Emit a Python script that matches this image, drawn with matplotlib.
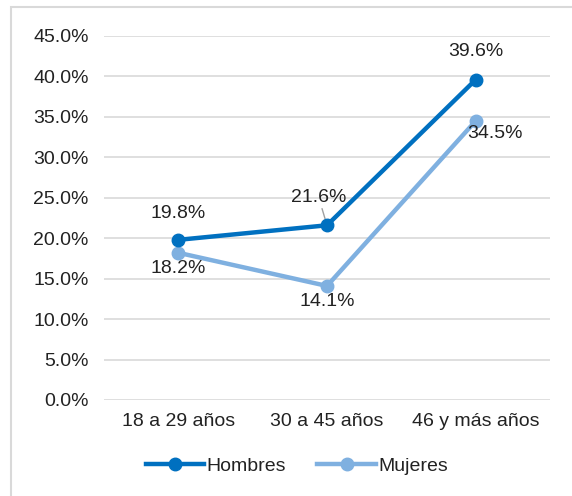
import matplotlib.pyplot as plt
from matplotlib.patches import Rectangle

categories = ["18 a 29 años", "30 a 45 años", "46 y más años"]
hombres = [19.8, 21.6, 39.6]
mujeres = [18.2, 14.1, 34.5]
yticks = [0, 5, 10, 15, 20, 25, 30, 35, 40, 45]

plt.rcParams['font.family'] = ['Liberation Sans', 'DejaVu Sans']
FS = 14
TXT = '#222222'

fig = plt.figure(figsize=(5.72, 4.96), dpi=100)
# outer chart border (runs off right and bottom)
fig.patches.append(Rectangle((11 / 572, -0.1), 1.2, 1 - 7 / 496 + 0.1,
                             transform=fig.transFigure, fill=False,
                             edgecolor='#D9D9D9', linewidth=1.5))

ax = fig.add_axes([104 / 572, 1 - 400 / 496, 446 / 572, 364 / 496])
x = list(range(len(categories)))
c_h = '#0070C0'
c_m = '#7FB0E0'
ax.plot(x, mujeres, color=c_m, lw=3.2, marker='o', ms=9, label='Mujeres', zorder=3)
ax.plot(x, hombres, color=c_h, lw=3.2, marker='o', ms=9, label='Hombres', zorder=4)

ax.set_xlim(-0.5, 2.5)
ax.set_ylim(0, 45)
ax.set_yticks(yticks)
ax.set_yticklabels([f"{v:.1f}%" for v in yticks])
ax.set_xticks(x)
ax.set_xticklabels(categories)
ax.tick_params(length=0, labelsize=FS, colors=TXT)
ax.tick_params(axis='y', pad=11)
ax.tick_params(axis='x', pad=9)
ax.grid(axis='y', color='#D9D9D9', lw=1.2)
ax.set_axisbelow(True)
for s in ax.spines.values():
    s.set_visible(False)

# data labels
ax.annotate(f"{hombres[0]}%", (0, hombres[0]), xytext=(0, 13), textcoords='offset points',
            ha='center', va='bottom', fontsize=FS, color=TXT)
ax.annotate(f"{hombres[1]}%", (1, hombres[1]), xytext=(-6, 14), textcoords='offset points',
            ha='center', va='bottom', fontsize=FS, color=TXT,
            arrowprops=dict(arrowstyle='-', color='#A0A0A0', lw=1, shrinkA=0, shrinkB=4))
ax.annotate(f"{hombres[2]}%", (2, hombres[2]), xytext=(0, 14), textcoords='offset points',
            ha='center', va='bottom', fontsize=FS, color=TXT)
ax.annotate(f"{mujeres[0]}%", (0, mujeres[0]), xytext=(0, -5), textcoords='offset points',
            ha='center', va='top', fontsize=FS, color=TXT)
ax.annotate(f"{mujeres[1]}%", (1, mujeres[1]), xytext=(0, -5), textcoords='offset points',
            ha='center', va='top', fontsize=FS, color=TXT)
ax.annotate(f"{mujeres[2]}%", (2, mujeres[2]), xytext=(14, -3), textcoords='offset points',
            ha='center', va='top', fontsize=FS, color=TXT)

handles, labels = ax.get_legend_handles_labels()
fig.legend(handles[::-1], labels[::-1], loc='center', bbox_to_anchor=(297 / 572, 1 - 466 / 496),
           ncol=2, frameon=False, fontsize=FS, handlelength=3.0, handletextpad=0.15,
           columnspacing=1.6, labelcolor=TXT)

fig.savefig('out.png', dpi=100)
